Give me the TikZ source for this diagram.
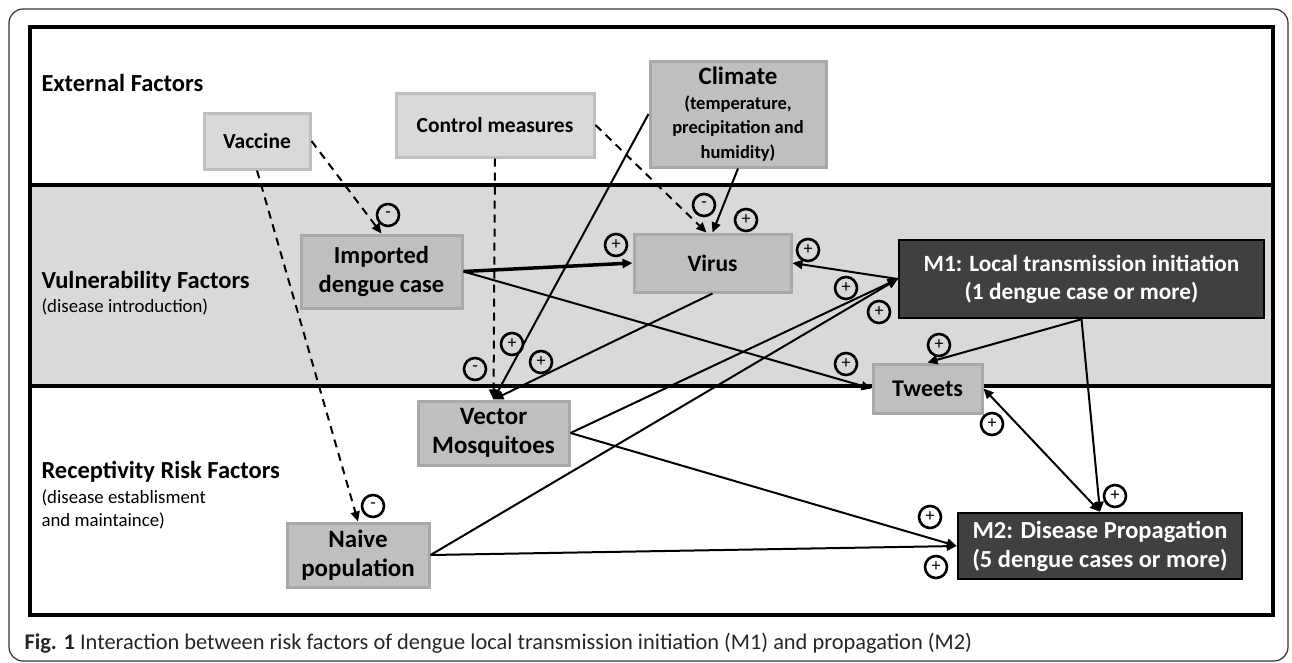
\documentclass[tikz,border=0pt]{standalone}
\usepackage{fontspec}
\setmainfont{Carlito}
\usetikzlibrary{arrows.meta, calc}
\definecolor{bandgray}{HTML}{D9D9D9}
\definecolor{boxgray}{HTML}{BFBFBF}
\definecolor{edgegray}{HTML}{A8A8A8}
\definecolor{darkfill}{HTML}{404040}
\begin{document}
\begin{tikzpicture}[x=1pt,y=-1pt,
  lightbox/.style={draw=boxgray, fill=bandgray, line width=3pt, inner sep=0pt, align=center, font=\bfseries\fontsize{21.5}{28}\selectfont},
  graybox/.style={draw=edgegray, fill=boxgray, line width=3pt, inner sep=0pt, align=center, font=\bfseries\fontsize{25}{28.5}\selectfont},
  darkbox/.style={draw=black, fill=darkfill, line width=2.5pt, inner sep=0pt, align=center, text=white, font=\bfseries\fontsize{23.3}{28}\selectfont},
  band/.style={anchor=west, font=\bfseries\fontsize{24.5}{26}\selectfont},
  bandnote/.style={anchor=west, font=\fontsize{18.8}{24}\selectfont},
  link/.style={line width=2pt, -{Triangle[length=10pt,width=9pt]}},
  dlink/.style={link, dash pattern=on 8pt off 6pt},
  posmark/.style={circle, draw, line width=2.6pt, minimum size=22pt, inner sep=0pt, font=\fontsize{18}{18}\selectfont},
  negmark/.style={posmark}]
\useasboundingbox (0,0) rectangle (1292,662);
\draw[line width=1.2pt, draw=black!80, rounded corners=14pt] (9,9) rectangle (1288,661);
\fill[bandgray] (30,185) rectangle (1273,386);
\draw[line width=4pt] (30,27) rectangle (1273,615);
\draw[line width=4pt] (30,185)--(1273,185);
\draw[line width=4pt] (30,386)--(1273,386);
\node[band] (ext) at (38,83) {External Factors};
\node[band] (vul) at (38,282) {Vulnerability Factors};
\node[bandnote] (vulnote) at (38,307) {(disease introduction)};
\node[band] (rec) at (38,472) {Receptivity Risk Factors};
\node[bandnote, align=left, font=\fontsize{18.8}{23}\selectfont] (recnote) at (38,509) {(disease establisment\\and maintaince)};
\node[lightbox, minimum width=106pt, minimum height=56pt] (vac) at (257,141) {Vaccine};
\node[lightbox, minimum width=198pt, minimum height=64pt] (ctl) at (495,125) {Control measures};
\node[graybox, minimum width=176pt, minimum height=106pt, font=\bfseries\fontsize{18.5}{24.5}\selectfont] (clim) at (738,114)
  {{\fontsize{25}{26}\selectfont Climate}\\(temperature,\\precipitation and\\humidity)};
\node[graybox, minimum width=161pt, minimum height=73pt, font=\bfseries\fontsize{24.5}{29}\selectfont] (imp) at (381.5,271.5) {Imported\\dengue case};
\node[graybox, minimum width=157pt, minimum height=58pt, font=\bfseries\fontsize{23.5}{28}\selectfont] (vir) at (712.5,263) {Virus};
\node[darkbox, minimum width=365pt, minimum height=78pt] (mone) at (1081.5,279) {M1: Local transmission initiation\\(1 dengue case or more)};
\node[graybox, minimum width=151pt, minimum height=64pt] (vec) at (493.5,433) {Vector\\Mosquitoes};
\node[graybox, minimum width=109pt, minimum height=49pt, font=\bfseries\fontsize{24}{28}\selectfont] (twt) at (927.5,388.5) {Tweets};
\node[graybox, minimum width=142pt, minimum height=64pt] (nai) at (358,555) {Naive\\population};
\node[darkbox, minimum width=284pt, minimum height=66pt, font=\bfseries\fontsize{24.5}{29}\selectfont] (mtwo) at (1100,546) {M2: Disease Propagation\\(5 dengue cases or more)};
\draw[dlink] (vac.east)--(imp.north);
\draw[dlink] (vac.south)--(nai.north);
\draw[dlink] (ctl.south)--(vec.north);
\draw[dlink] (ctl.east)--($(vir.north)+(-6,0)$);
\draw[link] (clim.south)--(vir.north);
\draw[link] (clim.west)--(vec.north);
\draw[link, line width=3.5pt] (imp.east)--(vir.west);
\draw[link] (imp.east)--(twt.west);
\draw[link] (vir.south)--(vec.north);
\draw[link] (mone.west)--(vir.east);
\draw[link] (vec.east)--(mone.west);
\draw[link] (nai.east)--(mone.west);
\draw[link] (mone.south)--(twt.north);
\draw[link] (mone.south)--(mtwo.north);
\draw[link, {Triangle[length=10pt,width=9pt]}-{Triangle[length=10pt,width=9pt]}] (twt.east)--(mtwo.north);
\draw[link] (vec.east)--(mtwo.west);
\draw[link] (nai.east)--(mtwo.west);
\node[negmark] (nvacimp) at (388,215) {-};
\node[negmark] (nvacnai) at (373,506) {-};
\node[negmark] (nctlvec) at (475,369) {-};
\node[negmark] (nctlvir) at (704,205) {-};
\node[posmark] (pclimvir) at (746,220) {+};
\node[posmark] (pimpvir) at (616,245) {+};
\node[posmark] (pmonevir) at (808,250) {+};
\node[posmark] (pclimvec) at (512,344) {+};
\node[posmark] (pvirvec) at (541,362) {+};
\node[posmark] (pvecmone) at (846,288) {+};
\node[posmark] (pnaimone) at (879,312) {+};
\node[posmark] (pimptwt) at (846,364) {+};
\node[posmark] (pmonetwt) at (939,345) {+};
\node[posmark] (ptwtmtwo) at (992,424) {+};
\node[posmark] (pmonemtwo) at (1115,496) {+};
\node[posmark] (pvecmtwo) at (930,517) {+};
\node[posmark] (pnaimtwo) at (936,567) {+};
\node[anchor=west, text=black!85, font=\fontsize{22.4}{24}\selectfont] (cap) at (21,643)
  {\textbf{Fig. 1} Interaction between risk factors of dengue local transmission initiation (M1) and propagation (M2)};
\end{tikzpicture}
\end{document}
